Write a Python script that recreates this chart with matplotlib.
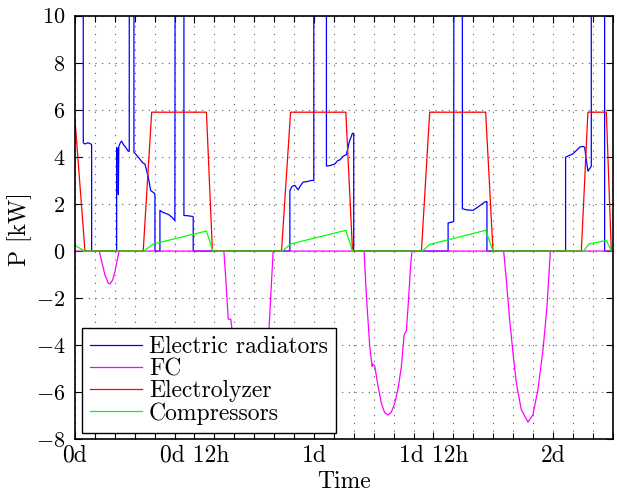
import matplotlib
matplotlib.use('Agg')
import matplotlib.pyplot as plt
from matplotlib.ticker import MultipleLocator

plt.rcParams['font.family'] = ['cmr10', 'DejaVu Serif']
plt.rcParams['mathtext.fontset'] = 'cm'
plt.rcParams['axes.formatter.use_mathtext'] = True

HI = 12  # above the axis limit, clipped

# time in hours
rad_t = [0, 0.83, 0.83, 1.0, 1.3, 1.6, 1.67, 1.67, 4.18, 4.18, 4.3, 4.35, 4.4, 4.55, 4.68,
         4.9, 5.1, 5.35, 5.45, 5.45, 5.92, 5.92, 6.36, 6.8, 7.02, 7.36, 7.6, 7.96, 8.03, 8.03,
         8.53, 8.53, 8.8, 9.1, 9.4, 9.7, 10.03, 10.05, 10.94, 10.94, 11.3, 11.81, 11.87, 11.87,
         21.58, 21.58, 21.8, 22.08, 22.41, 22.6, 22.91, 23.3, 23.75, 23.98, 23.98,
         25.25, 25.25, 25.59, 26.1, 26.4, 26.6, 26.9, 27.26, 27.53, 27.86, 27.99, 27.99,
         37.47, 37.47, 38.03, 38.05, 38.9, 38.9, 39.3, 39.97, 40.47, 41.14, 41.3, 41.37, 41.37,
         49.27, 49.27, 50.0, 50.3, 50.68, 51.0, 51.18, 51.51, 51.68, 51.85, 51.85,
         53.19, 53.19, 54]
rad_p = [HI, HI, 4.6, 4.55, 4.6, 4.55, 4.5, 0, 0, 4.4, 4.35, 2.4, 4.45, 4.6, 4.67,
         4.5, 4.4, 4.24, 4.24, HI, HI, 4.2, 3.99, 3.75, 3.7, 3.14, 2.57, 2.46, 2.4, 0,
         0, 1.73, 1.65, 1.6, 1.55, 1.45, 1.3, HI, HI, 1.51, 1.5, 1.47, 1.45, 0,
         0, 2.57, 2.75, 2.79, 2.6, 2.75, 2.93, 2.95, 3.0, 3.0, HI,
         HI, 3.61, 3.63, 3.7, 3.85, 3.87, 4.02, 4.1, 4.62, 5.0, 5.0, 0,
         0, 1.19, 1.25, HI, HI, 1.8, 1.75, 1.73, 1.87, 2.08, 2.1, 2.1, 0,
         0, 3.99, 4.13, 4.25, 4.41, 4.45, 4.41, 3.39, 3.5, 3.6, HI,
         HI, 0, 0]

fc_t = [0, 2.44, 2.68, 3.01, 3.35, 3.51, 3.78, 4.01, 4.24, 4.44,
        14.95, 15.15, 15.39, 15.65, 15.79, 16.3, 17.0, 17.6, 18.2, 18.8, 19.2, 19.47, 19.9,
        29.03, 29.27, 29.6, 29.84, 29.9, 30.1, 30.44, 30.77, 31.1, 31.44, 31.78, 32.11, 32.45,
        32.78, 33.05, 33.28, 33.45, 33.72, 33.85,
        43.05, 43.32, 43.65, 43.99, 44.32, 44.82, 45.49, 45.99, 46.49, 47.0, 47.4, 47.74, 54]
fc_p = [0, 0, -0.45, -1.02, -1.37, -1.4, -1.23, -0.88, -0.38, 0,
        0, -1.23, -2.89, -2.9, -3.43, -4.8, -5.9, -6.3, -5.8, -4.6, -3.8, -3.43, 0,
        0, -1.94, -4.06, -4.9, -4.8, -4.88, -5.76, -6.47, -6.87, -6.97, -6.83, -6.47, -5.83,
        -4.9, -3.57, -3.38, -2.36, -0.52, 0,
        0, -1.23, -2.92, -4.34, -5.6, -6.74, -7.27, -6.95, -5.9, -4.2, -2.36, 0, 0]

ely_t = [0, 1.0, 6.85, 7.7, 13.2, 13.8, 20.74, 21.65, 27.2, 27.87,
         34.79, 35.62, 41.24, 41.98, 50.85, 51.51, 53.36, 53.86, 54]
ely_p = [5.57, 0, 0, 5.9, 5.9, 0, 0, 5.9, 5.9, 0,
         0, 5.9, 5.9, 0, 0, 5.9, 5.9, 0, 0]

comp_t = [0, 1.0, 6.92, 7.86, 13.2, 13.85, 20.84, 21.65, 27.2, 27.87,
          34.89, 35.62, 41.24, 41.98, 51.08, 51.61, 53.36, 53.86, 54]
comp_p = [0.23, 0, 0, 0.3, 0.85, 0, 0, 0.3, 0.88, 0,
          0, 0.28, 0.88, 0, 0, 0.3, 0.45, 0, 0]

xtick_pos = [0, 12, 24, 36, 48]
xtick_labels = ['0d', '0d 12h', '1d', '1d 12h', '2d']

fs = 17

fig = plt.figure(figsize=(6.17, 4.95), dpi=100)
ax = fig.add_axes([75 / 617, 1 - 439.3 / 495, 537.7 / 617, 423.6 / 495])

ax.plot(rad_t, rad_p, color='#0000ff', lw=0.9, label='Electric radiators')
ax.plot(fc_t, fc_p, color='#ff00ff', lw=0.9, label='FC')
ax.plot(ely_t, ely_p, color='#ff0000', lw=0.9, label='Electrolyzer')
ax.plot(comp_t, comp_p, color='#00ff00', lw=0.9, label='Compressors')

ax.set_xlim(0, 54)
ax.set_ylim(-8, 10)
ax.set_xticks(xtick_pos)
ax.set_xticklabels(xtick_labels)
ax.xaxis.set_minor_locator(MultipleLocator(2))
ax.yaxis.set_major_locator(MultipleLocator(2))

ax.tick_params(which='both', direction='in', top=True, right=True, labelsize=fs)
ax.tick_params(axis='x', pad=4)
ax.tick_params(axis='y', labelsize=16, pad=7)
ax.tick_params(which='major', length=5, width=0.8)
ax.tick_params(which='minor', length=4, width=0.8)

ax.grid(True, which='both', axis='x', color='0.35', lw=0.8, linestyle=(0, (1, 6)))
ax.grid(True, which='major', axis='y', color='0.35', lw=0.8, linestyle=(0, (1, 5)))

for sp in ax.spines.values():
    sp.set_linewidth(1.2)

ax.set_xlabel('Time', fontsize=fs)
ax.set_ylabel('P [kW]', fontsize=fs)
ax.xaxis.set_label_coords(0.5, -0.075)
ax.yaxis.set_label_coords(-0.08, 0.495)

leg = ax.legend(loc='lower left', bbox_to_anchor=(0.0125, 0.015), borderaxespad=0,
                fontsize=fs, fancybox=False, framealpha=1, edgecolor='black',
                handlelength=2.2, handletextpad=0.3, labelspacing=0.0, borderpad=0.35)
leg.get_frame().set_linewidth(1.0)

fig.savefig('out.png', dpi=100)
